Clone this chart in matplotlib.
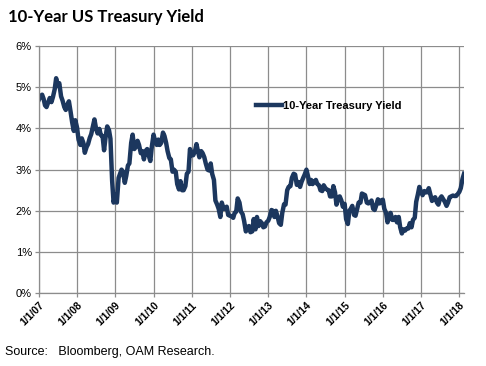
import matplotlib.pyplot as plt
import matplotlib.dates as mdates
import matplotlib.ticker as mticker
import pandas as pd

# semi-monthly readings (1st and 15th), Jan 2007 - Feb 2018, in percent
yield_2007 = [4.70, 4.78, 4.82, 4.72, 4.56, 4.52, 4.64, 4.74, 4.64, 4.76, 4.95, 5.22,
              5.03, 5.10, 4.78, 4.68, 4.52, 4.45, 4.58, 4.66, 4.39, 4.15, 3.94, 4.20]
yield_2008 = [4.02, 3.73, 3.60, 3.76, 3.65, 3.41, 3.55, 3.62, 3.77, 3.86, 4.06, 4.22,
              3.99, 3.88, 3.99, 3.84, 3.81, 3.47, 3.82, 4.05, 3.96, 3.75, 2.73, 2.20]
yield_2009 = [2.40, 2.20, 2.80, 2.90, 3.00, 2.95, 2.68, 2.85, 3.10, 3.15, 3.65, 3.85,
              3.50, 3.55, 3.70, 3.60, 3.40, 3.45, 3.25, 3.45, 3.50, 3.35, 3.21, 3.55]
yield_2010 = [3.85, 3.70, 3.60, 3.73, 3.60, 3.65, 3.90, 3.82, 3.65, 3.45, 3.28, 3.25,
              2.95, 3.00, 2.95, 2.65, 2.52, 2.72, 2.50, 2.50, 2.60, 2.90, 2.95, 3.50]
yield_2011 = [3.35, 3.35, 3.45, 3.62, 3.45, 3.30, 3.45, 3.40, 3.30, 3.15, 3.00, 2.98,
              3.15, 2.90, 2.75, 2.25, 2.15, 2.05, 1.85, 2.20, 2.05, 2.05, 2.10, 1.90]
yield_2012 = [1.88, 1.87, 1.83, 1.95, 1.98, 2.30, 2.20, 1.98, 1.92, 1.76, 1.50, 1.60,
              1.63, 1.48, 1.50, 1.80, 1.55, 1.85, 1.63, 1.75, 1.70, 1.60, 1.62, 1.72]
yield_2013 = [1.76, 1.85, 2.02, 2.00, 1.85, 2.00, 1.85, 1.70, 1.66, 1.95, 2.16, 2.15,
              2.50, 2.58, 2.60, 2.80, 2.90, 2.88, 2.63, 2.70, 2.58, 2.70, 2.80, 2.88]
yield_2014 = [3.00, 2.85, 2.65, 2.75, 2.65, 2.70, 2.75, 2.65, 2.62, 2.50, 2.48, 2.62,
              2.55, 2.52, 2.50, 2.35, 2.35, 2.60, 2.45, 2.15, 2.33, 2.35, 2.25, 2.10]
yield_2015 = [2.17, 1.80, 1.68, 2.00, 2.05, 2.12, 1.90, 1.88, 2.05, 2.20, 2.20, 2.42,
              2.40, 2.38, 2.20, 2.18, 2.20, 2.25, 2.05, 2.02, 2.15, 2.28, 2.18, 2.25]
yield_2016 = [2.27, 2.05, 1.95, 1.72, 1.85, 1.95, 1.78, 1.78, 1.85, 1.72, 1.85, 1.60,
              1.45, 1.55, 1.52, 1.57, 1.57, 1.70, 1.60, 1.78, 1.83, 2.22, 2.40, 2.58]
yield_2017 = [2.45, 2.38, 2.48, 2.45, 2.45, 2.55, 2.38, 2.24, 2.30, 2.33, 2.20, 2.15,
              2.30, 2.35, 2.28, 2.22, 2.12, 2.20, 2.33, 2.35, 2.37, 2.36, 2.36, 2.40]
yield_2018 = [2.46, 2.55, 2.78, 2.90]

values = (yield_2007 + yield_2008 + yield_2009 + yield_2010 + yield_2011 + yield_2012
          + yield_2013 + yield_2014 + yield_2015 + yield_2016 + yield_2017 + yield_2018)
dates = pd.date_range("2007-01-01", periods=len(values), freq="SMS")
series = pd.Series(values, index=dates)

year_ticks = pd.date_range("2007-01-01", "2018-01-01", freq="YS")
tick_labels = [f"1/1/{d.strftime('%y')}" for d in year_ticks]

navy = "#1c375e"
grid_grey = "#8c8c8c"

fig = plt.figure(figsize=(4.86, 3.66), dpi=100)
ax = fig.add_axes([0.080, 0.199, 0.875, 0.675])

ax.plot(series.index, series.values, color=navy, lw=3.2, solid_joinstyle="round",
        label="10-Year Treasury Yield")

ax.set_ylim(0, 6)
ax.set_xlim(pd.Timestamp("2007-01-01"), pd.Timestamp("2018-02-16"))
ax.yaxis.set_major_locator(mticker.MultipleLocator(1))
ax.yaxis.set_major_formatter(mticker.FuncFormatter(lambda v, _: f"{v:.0f}%"))
ax.set_xticks(year_ticks)
ax.set_xticklabels(tick_labels, rotation=45, ha="right", rotation_mode="anchor",
                   fontsize=7.5, fontweight="bold", family="Liberation Sans")
for lab in ax.get_yticklabels():
    lab.set_family("Liberation Sans")
    lab.set_fontsize(8)

ax.grid(True, color=grid_grey, lw=0.9)
ax.set_axisbelow(True)
for side in ["top", "right"]:
    ax.spines[side].set_visible(False)
for side in ["left", "bottom"]:
    ax.spines[side].set_color(grid_grey)
    ax.spines[side].set_linewidth(0.9)
ax.tick_params(axis="both", color=grid_grey, length=3, width=0.9, pad=2)

leg = ax.legend(loc="center left", bbox_to_anchor=(0.5, 0.757), frameon=False,
                handlelength=2.3, handletextpad=0.1, borderaxespad=0,
                prop={"family": "Liberation Sans", "size": 8, "weight": "bold"})

fig.text(0.016, 0.953, "10-Year US Treasury Yield", fontsize=12, fontweight="bold",
         family="Lato", va="center", ha="left")
fig.text(0.010, 0.038, "Source:   Bloomberg, OAM Research.", fontsize=9,
         family="Liberation Sans", va="center", ha="left")

fig.savefig("out.png", dpi=100)
